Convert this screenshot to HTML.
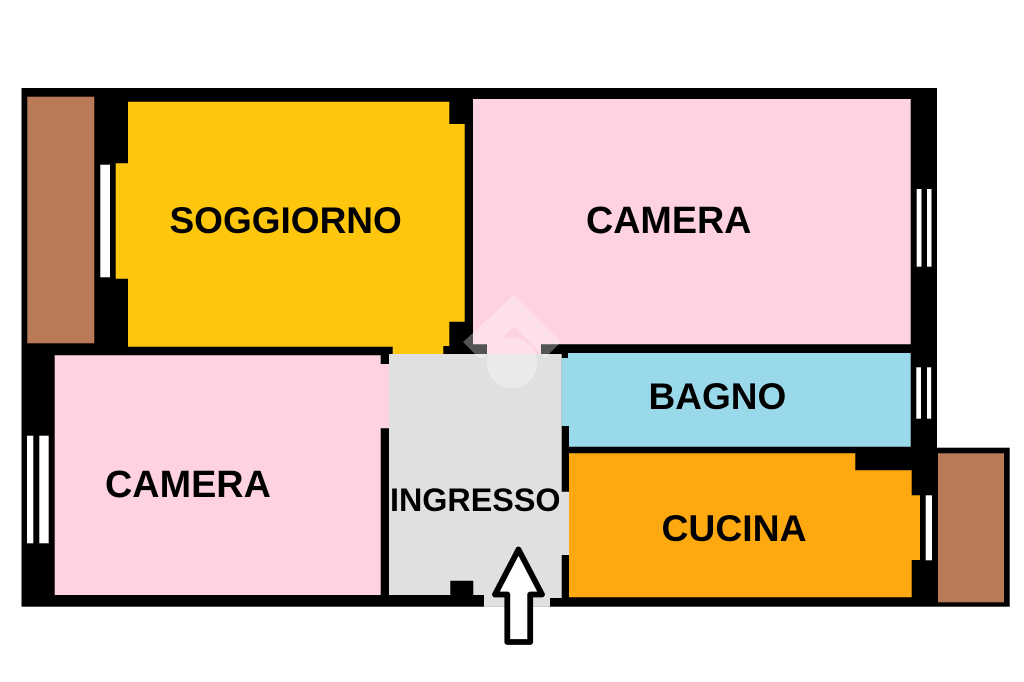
<!DOCTYPE html>
<html>
<head>
<meta charset="utf-8">
<title>Planimetria</title>
<style>
html,body{margin:0;padding:0;background:#fff;width:1024px;height:682px;overflow:hidden}
svg{display:block}
text{font-family:"Liberation Sans",Arial,sans-serif;font-weight:bold;fill:#000}
</style>
</head>
<body>
<svg width="1024" height="682" viewBox="0 0 1024 682" xmlns="http://www.w3.org/2000/svg">
<rect width="1024" height="682" fill="#fff"/>
<!-- walls -->
<rect x="21.5" y="88" width="915.5" height="518.7" fill="#000"/>
<rect x="937" y="447.7" width="72.7" height="159" fill="#000"/>
<!-- balconies -->
<rect x="27.3" y="96.7" width="67" height="246.6" fill="#b97a57"/>
<rect x="938" y="453.3" width="66" height="149" fill="#b97a57"/>
<!-- soggiorno -->
<polygon fill="#fec60d" points="128,101.7 449.3,101.7 449.3,124 464.7,124 464.7,321.7 449.3,321.7 449.3,346 443.3,346 443.3,354.5 392.7,354.5 392.7,346.7 128,346.7 128,278.7 115.7,278.7 115.7,163.3 128,163.3"/>
<!-- camera right -->
<polygon fill="#fed2e0" points="473,99 910.7,99 910.7,344.3 541,344.3 541,354.5 487,354.5 487,344.3 473,344.3"/>
<!-- camera left -->
<polygon fill="#fed2e0" points="54.7,355.3 380.7,355.3 380.7,364 389.5,364 389.5,428.3 380.7,428.3 380.7,595 54.7,595"/>
<!-- bagno -->
<polygon fill="#99d9ea" points="568,353 910.7,353 910.7,446.7 569,446.7 569,426 561.7,426 561.7,358 568,358"/>
<!-- cucina -->
<polygon fill="#fea90f" points="569,453.3 855.3,453.3 855.3,470.3 911.7,470.3 911.7,495.3 920,495.3 920,560 911.7,560 911.7,597.3 569,597.3"/>
<!-- ingresso -->
<polygon fill="#e0e0e0" points="389,354 561.7,354 561.7,491.7 569,491.7 569,555 561.7,555 561.7,598 550,598 550,606.7 484,606.7 484,595 473.3,595 473.3,580.7 450.3,580.7 450.3,595 389,595"/>
<!-- windows -->
<g fill="#fff">
<rect x="100.3" y="164.7" width="9.7" height="112.6"/>
<rect x="916.7" y="189" width="4.8" height="77.7"/>
<rect x="927" y="189" width="4.5" height="77.7"/>
<rect x="916.3" y="367.3" width="4.7" height="51.4"/>
<rect x="927" y="367.3" width="4.2" height="51.4"/>
<rect x="925.7" y="495.3" width="6.3" height="65"/>
<rect x="27" y="435.7" width="6.3" height="107.6"/>
<rect x="39.3" y="435.7" width="9.4" height="107.6"/>
</g>
<!-- watermark -->
<g fill="#fff" opacity="0.33">
<polygon points="514,295 561,342 545,358 514,326 484,358 479,358 463,342"/>
<circle cx="512" cy="363" r="25.3"/>
</g>
<!-- arrow -->
<polygon fill="#fff" stroke="#000" stroke-width="5.8" stroke-linejoin="round" points="518.5,549.5 495,594.5 507.3,594.5 507.3,642 530.2,642 530.2,594.5 542,594.5"/>
<!-- labels -->
<text x="169.5" y="233" font-size="37">SOGGIORNO</text>
<text x="586" y="233" font-size="37.7">CAMERA</text>
<text x="105" y="497" font-size="37.8">CAMERA</text>
<text x="648.5" y="409" font-size="37">BAGNO</text>
<text x="661.5" y="541" font-size="37.3">CUCINA</text>
<text x="390" y="511" font-size="32.3">INGRESSO</text>
</svg>
</body>
</html>
